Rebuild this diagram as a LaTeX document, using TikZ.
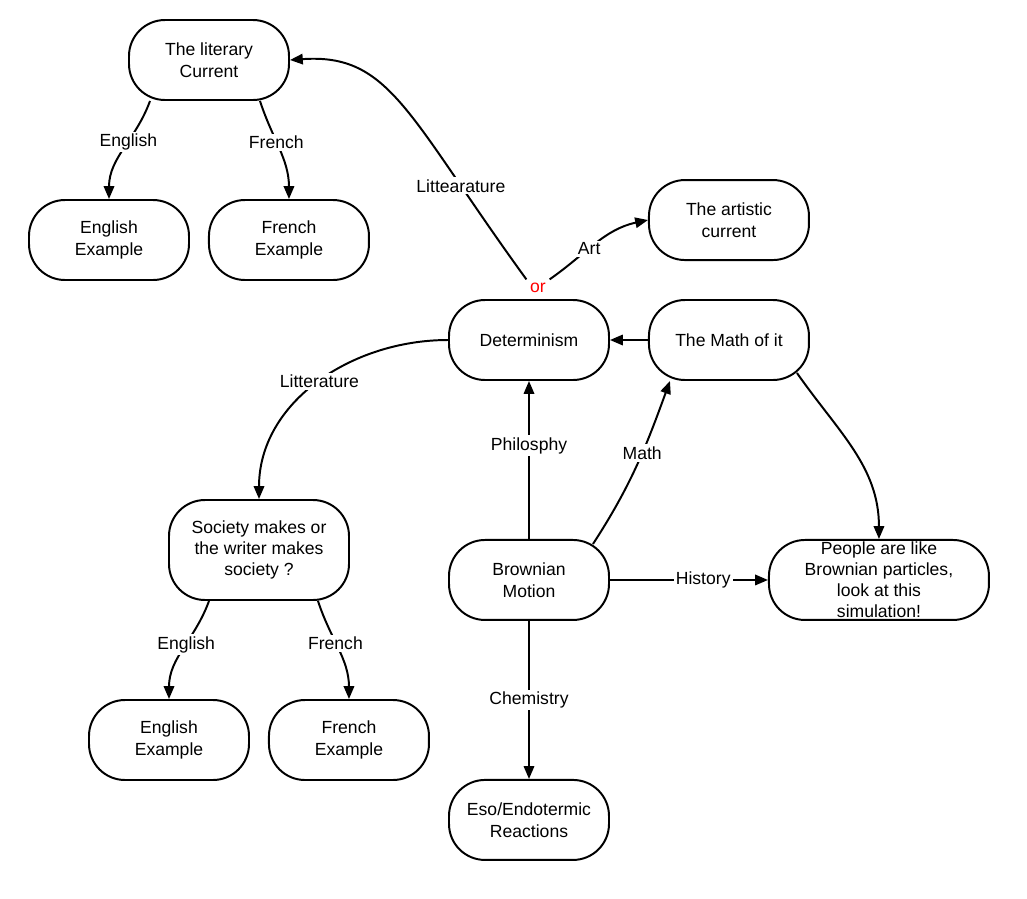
\documentclass[tikz,border=0pt]{standalone}
\usepackage{fontspec}
\setmainfont{Liberation Sans}
\usetikzlibrary{positioning, arrows.meta}

\begin{document}
\begin{tikzpicture}[
    box/.style={draw, rectangle, rounded corners=0.9cm, line width=1.4pt,
                minimum width=4cm, minimum height=2cm, align=center,
                font=\fontsize{12.5}{15.5}\selectfont},
    link/.style={-{Triangle[length=3.2mm, width=2.6mm]}, line width=1.4pt},
    lbl/.style={fill=white, inner sep=1.5pt, font=\fontsize{12.5}{14}\selectfont}
]
    \useasboundingbox (0,0) rectangle (25.675,-22.475);

    % Literary branch (top left)
    \node[box] (lit) at (5.225,-1.5) {The literary\\Current};
    \node[box] (eng1) at (2.725,-6) {English\\Example};
    \node[box, right=0.45cm of eng1] (fr1) {French\\Example};

    % Centre column
    \node[box] (det) at (13.225,-8.5) {Determinism};
    \node[box, right=0.95cm of det] (math) {The Math of it};
    \node[box, above=0.95cm of math] (art) {The artistic\\current};
    \node[box, below=3.95cm of det] (brown) {Brownian\\Motion};
    \node[box, below=3.95cm of brown] (eso) {Eso/Endotermic\\Reactions};
    \node[box, right=3.95cm of brown, minimum width=5.5cm, inner ysep=0pt,
          font=\fontsize{12.5}{14.9}\selectfont] (people)
        {People are like\\Brownian particles,\\look at this\\simulation!};

    % Society branch (bottom left)
    \node[box, minimum width=4.5cm, minimum height=2.5cm,
          font=\fontsize{12.5}{14.9}\selectfont] (soc) at (6.475,-13.75)
        {Society makes or\\the writer makes\\society ?};
    \node[box] (eng2) at (4.225,-18.5) {English\\Example};
    \node[box, right=0.45cm of eng2] (fr2) {French\\Example};

    % red "or" split above Determinism
    \node[text=red, inner sep=2.5pt, font=\fontsize{12.5}{14}\selectfont] (or) at (13.45,-7.2) {or};

    % curved links
    \draw[link] ([xshift=-1.475cm] lit.south) to[out=-110, in=90]
        node[lbl, pos=0.42] {English} (eng1.north);
    \draw[link] ([xshift=1.275cm] lit.south) to[out=-72, in=90]
        node[lbl, pos=0.42] {French} (fr1.north);
    \draw[link] (or.north west) to[out=126, in=4, out looseness=1.6, in looseness=0.8]
        node[lbl, pos=0.22] {Littearature} (lit.east);
    \draw[link] (or.north east) to[out=35, in=192]
        node[lbl, pos=0.42] {Art} (art.west);
    \draw[link] (det.west) to[out=180, in=90]
        node[lbl, pos=0.49] {Litterature} (soc.north);
    \draw[link] ([xshift=-0.425cm, yshift=-0.125cm] brown.north east) to[out=57, in=-110]
        node[lbl, pos=0.58] {Math} ([xshift=-1.475cm] math.south);
    \draw[link] ([xshift=1.7cm, yshift=0.2cm] math.south) to[out=-55, in=90] (people.north);
    \draw[link] ([xshift=-1.25cm] soc.south) to[out=-110, in=90]
        node[lbl, pos=0.45] {English} (eng2.north);
    \draw[link] ([xshift=1.475cm] soc.south) to[out=-72, in=90]
        node[lbl, pos=0.43] {French} (fr2.north);

    % straight links
    \draw[link] (math) -- (det);
    \draw[link] (brown) -- node[lbl, pos=0.59] {Philosphy} (det);
    \draw[link] (brown) -- node[lbl, pos=0.59] {History} (people);
    \draw[link] (brown) -- node[lbl, pos=0.5] {Chemistry} (eso);
\end{tikzpicture}
\end{document}
